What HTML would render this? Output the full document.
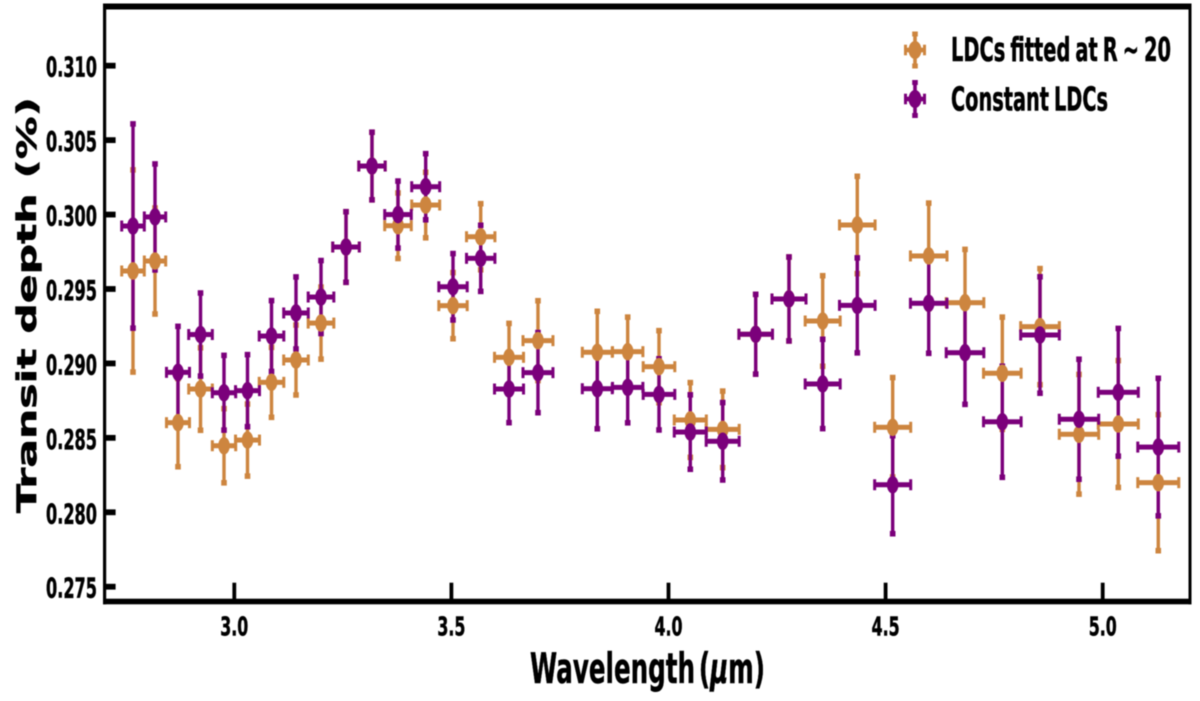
<!DOCTYPE html>
<html lang="en">
<head>
<meta charset="utf-8">
<title>Transit depth vs wavelength</title>
<style>
html,body{margin:0;padding:0;background:#fff;width:1200px;height:701px;overflow:hidden}
svg{display:block;filter:blur(0.4px)}
text{font-family:"DejaVu Sans","Liberation Sans",sans-serif;font-weight:bold;fill:#000;stroke:#000;stroke-width:.55px}
</style>
</head>
<body>
<svg id="chart" xmlns="http://www.w3.org/2000/svg" width="1200" height="701" viewBox="0 0 1200 701">
  <rect x="0" y="0" width="1200" height="701" fill="#fff"/>
  <g id="ticks"></g>
  <g id="orange-v"></g>
  <g id="purple-v"></g>
  <g id="orange-h"></g>
  <g id="purple-h"></g>
  <g fill="#000">
    <rect x="103" y="3.5" width="1088.5" height="6"/>
    <rect x="103" y="598.7" width="1088.5" height="5.6"/>
    <rect x="103" y="3.5" width="3.2" height="600.8"/>
    <rect x="1188.5" y="3.5" width="3" height="600.8"/>
  </g>
  <text x="530" y="683" font-size="42" textLength="235" lengthAdjust="spacingAndGlyphs" style="word-spacing:-8px">Wavelength (<tspan font-style="italic">μ</tspan>m)</text>
  <text transform="translate(36,513) rotate(-90)" x="0" y="0" font-size="27" textLength="416" lengthAdjust="spacingAndGlyphs">Transit depth (%)</text>
  <g>
    <g>
      <g fill="#cd853f">
        <rect x="913.2" y="33" width="3.6" height="34"/>
        <rect x="912.2" y="31.5" width="5.6" height="5"/>
        <rect x="912.2" y="63.5" width="5.6" height="5"/>
        <rect x="904.5" y="47.7" width="21" height="4.6"/>
        <rect x="904" y="44.7" width="3" height="10.6"/>
        <rect x="923" y="44.7" width="3" height="10.6"/>
        <ellipse cx="915" cy="50" rx="6.5" ry="9"/>
      </g>
      <text x="951" y="61" font-size="33" textLength="220" lengthAdjust="spacingAndGlyphs" style="word-spacing:-3px">LDCs fitted at R ~ 20</text>
    </g>
    <g>
      <g fill="#7b007b">
        <rect x="913.2" y="82" width="3.6" height="34"/>
        <rect x="912.2" y="80" width="5.6" height="5"/>
        <rect x="912.2" y="113" width="5.6" height="5"/>
        <rect x="904.5" y="96.7" width="21" height="4.6"/>
        <rect x="904" y="93.7" width="3" height="10.6"/>
        <rect x="923" y="93.7" width="3" height="10.6"/>
        <ellipse cx="915" cy="99" rx="6.5" ry="9"/>
      </g>
      <text x="951" y="110.7" font-size="33" textLength="157" lengthAdjust="spacingAndGlyphs" style="word-spacing:-3px">Constant LDCs</text>
    </g>
  </g>
</svg>
<script>
const wavelengths = [2.7667,2.8174,2.8703,2.9222,2.9763,3.0304,3.0857,3.1421,3.1997,3.2573,3.3171,3.3770,3.4408,3.5037,3.5675,3.6327,3.6994,3.8360,3.9060,3.9781,4.0502,4.1248,4.2008,4.2775,4.3551,4.4348,4.5163,4.5993,4.6829,4.7688,4.8556,4.9454,5.0359,5.1280];
const wavelengthErrors = [.0283,.0269,.0288,.0295,.0292,.0299,.0306,.0306,.0318,.0329,.0327,.0329,.0345,.035,.035,.0357,.0368,.0368,.0373,.0387,.0392,.0403,.041,.0415,.0426,.0433,.0438,.0444,.0456,.0456,.0468,.0477,.0484,.0495];
const fittedDepths = [.29621,.29688,.28602,.28828,.28447,.28485,.28873,.29023,.29271,.29782,.30326,.29925,.30064,.29388,.29851,.29041,.29153,.29075,.29079,.28978,.28620,.28557,.29196,.29433,.29285,.29930,.28571,.29722,.29408,.28934,.29247,.28524,.28593,.28199];
const fittedErrors = [.00679,.00356,.00296,.00277,.00249,.00242,.00235,.00235,.00242,.00237,.00227,.00220,.00220,.00222,.00222,.00228,.00268,.00275,.00232,.00242,.00251,.00257,.00268,.00282,.00304,.00327,.00334,.00355,.00358,.00377,.00390,.00402,.00426,.00457];
const constantDepths = [.29923,.29984,.28940,.29194,.28803,.28817,.29184,.29339,.29446,.29782,.30326,.30000,.30187,.29515,.29706,.28828,.28938,.28830,.28839,.28792,.28539,.28477,.29196,.29433,.28862,.29390,.28185,.29404,.29072,.28608,.29191,.28625,.28806,.28438];
const constantErrors = [.00686,.00356,.00309,.00279,.00251,.00242,.00238,.00242,.00245,.00237,.00227,.00225,.00222,.00223,.00222,.00226,.00269,.00269,.00238,.00239,.00250,.00260,.00268,.00282,.00300,.00319,.00329,.00336,.00347,.00373,.00391,.00403,.00429,.00462];
const xTickValues = [3.0,3.5,4.0,4.5,5.0];
const xTickLabels = ["3.0","3.5","4.0","4.5","5.0"];
const yTickValues = [.310,.305,.300,.295,.290,.285,.280,.275];
const yTickLabels = ["0.310","0.305","0.300","0.295","0.290","0.285","0.280","0.275"];

const SVG_NS = "http://www.w3.org/2000/svg";
const xScale = w => 234.3 + (w - 3) * 434.2;
const yScale = v => 65.7 + (0.31 - v) * 14886;

function makeRect(parent, x, y, w, h, fill) {
  const el = document.createElementNS(SVG_NS, "rect");
  el.setAttribute("x", x);
  el.setAttribute("y", y);
  el.setAttribute("width", w);
  el.setAttribute("height", h);
  el.setAttribute("fill", fill);
  parent.appendChild(el);
  return el;
}

function drawSeries(xs, xerrs, ys, yerrs, color, vLayer, hLayer, key) {
  xs.forEach(function (w, i) {
    const cx = xScale(w);
    const cy = yScale(ys[i]);
    const top = yScale(ys[i] + yerrs[i]);
    const bot = yScale(ys[i] - yerrs[i]);
    const left = xScale(w - xerrs[i]);
    const right = xScale(w + xerrs[i]);

    const vBar = makeRect(vLayer, cx - 1.7, top, 3.4, bot - top, color);
    
    
    const capTop = makeRect(vLayer, cx - 2.8, top - 2.8, 5.6, 5.6, color);
    
    
    const capBot = makeRect(vLayer, cx - 2.8, bot - 2.8, 5.6, 5.6, color);
    
    

    const hBar = makeRect(hLayer, left, cy - 2.5, right - left, 5, color);
    
    
    const capL = makeRect(hLayer, left - 0.5, cy - 5.5, 3, 11, color);
    
    
    const capR = makeRect(hLayer, right - 2.5, cy - 5.5, 3, 11, color);
    
    

    const dot = document.createElementNS(SVG_NS, "ellipse");
    dot.setAttribute("cx", cx);
    dot.setAttribute("cy", cy);
    dot.setAttribute("rx", 5.8);
    dot.setAttribute("ry", 8.8);
    dot.setAttribute("fill", color);
    
    
    hLayer.appendChild(dot);
  });
}

const tickLayer = document.getElementById("ticks");
xTickValues.forEach(function (t, i) {
  const px = xScale(t);
  const tick = makeRect(tickLayer, px - 1.9, 582.7, 3.8, 17, "#000");
  
  
  const label = document.createElementNS(SVG_NS, "text");
  label.setAttribute("x", px - 14);
  label.setAttribute("y", 635.5);
  label.setAttribute("font-size", 26);
  label.setAttribute("textLength", 28);
  label.setAttribute("lengthAdjust", "spacingAndGlyphs");
  
  
  label.textContent = xTickLabels[i];
  tickLayer.appendChild(label);
});
yTickValues.forEach(function (t, i) {
  const py = yScale(t);
  const tick = makeRect(tickLayer, 106, py - 2.9, 9.6, 5.8, "#000");
  
  
  const label = document.createElementNS(SVG_NS, "text");
  label.setAttribute("x", 46);
  label.setAttribute("y", py + 11);
  label.setAttribute("font-size", 27.5);
  label.setAttribute("textLength", 51);
  label.setAttribute("lengthAdjust", "spacingAndGlyphs");
  
  
  label.textContent = yTickLabels[i];
  tickLayer.appendChild(label);
});

drawSeries(wavelengths, wavelengthErrors, fittedDepths, fittedErrors, "#cd853f",
  document.getElementById("orange-v"), document.getElementById("orange-h"), "ldcs-fitted");
drawSeries(wavelengths, wavelengthErrors, constantDepths, constantErrors, "#7b007b",
  document.getElementById("purple-v"), document.getElementById("purple-h"), "constant-ldcs");
</script>
</body>
</html>
